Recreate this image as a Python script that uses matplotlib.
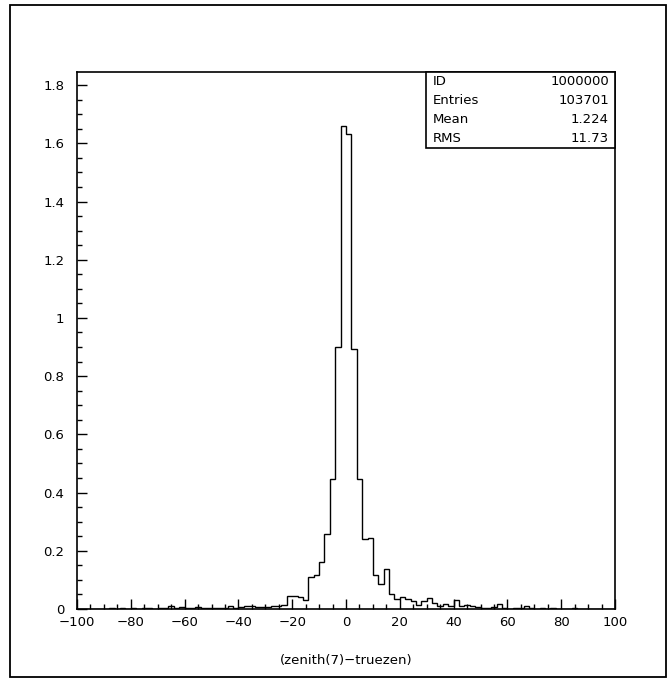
import numpy as np
import matplotlib
matplotlib.use("Agg")
import matplotlib.pyplot as plt
from matplotlib.ticker import MultipleLocator
from matplotlib.patches import Rectangle

# histogram: 100 bins of width 2 from -100 to 100
bin_edges = np.arange(-100, 101, 2)
counts = [
    0.001, 0.001, 0.001, 0.0015, 0.001, 0.001, 0.002, 0.001, 0.002, 0.001,   # -100 .. -82
    0.002, 0.001, 0.002, 0.002, 0.001, 0.002, 0.003, 0.011, 0.004, 0.007,    # -80 .. -62
    0.003, 0.004, 0.006, 0.003, 0.004, 0.003, 0.003, 0.004, 0.009, 0.003,    # -60 .. -42
    0.006, 0.011, 0.009, 0.006, 0.006, 0.007, 0.009, 0.011, 0.015, 0.044,    # -40 .. -22
    0.043, 0.040, 0.030, 0.110, 0.118, 0.161, 0.259, 0.445, 0.900, 1.660,    # -20 .. -2
    1.632, 0.895, 0.448, 0.242, 0.245, 0.118, 0.086, 0.138, 0.050, 0.034,    # 0 .. 18
    0.042, 0.034, 0.029, 0.014, 0.029, 0.037, 0.021, 0.011, 0.016, 0.011,    # 20 .. 38
    0.032, 0.011, 0.014, 0.009, 0.007, 0.002, 0.005, 0.007, 0.018, 0.002,    # 40 .. 58
    0.001, 0.002, 0.005, 0.009, 0.002, 0.001, 0.002, 0.001, 0.003, 0.001,    # 60 .. 78
    0.001, 0.001, 0.002, 0.001, 0.001, 0.001, 0.001, 0.001, 0.001, 0.001,    # 80 .. 98
]

stat_names = ["ID", "Entries", "Mean", "RMS"]
stat_values = ["1000000", "103701", "1.224", "11.73"]
x_label = "(zenith(7)\u2212truezen)"

plt.rcParams['font.family'] = ['DejaVu Sans']
W, H = 671, 679
fig = plt.figure(figsize=(W / 100, H / 100), dpi=100)

# axes box in pixel coordinates
ax_l, ax_r, ax_t, ax_b = 77, 615, 72, 609
ax = fig.add_axes([ax_l / W, (H - ax_b) / H, (ax_r - ax_l) / W, (ax_b - ax_t) / H])

ax.stairs(counts, bin_edges, color='black', linewidth=1.0)

ax.set_xlim(-100, 100)
ax.set_ylim(0, 1.845)

ax.xaxis.set_major_locator(MultipleLocator(20))
ax.xaxis.set_minor_locator(MultipleLocator(5))
ax.yaxis.set_major_locator(MultipleLocator(0.2))
ax.yaxis.set_minor_locator(MultipleLocator(0.05))

def fmt_y(v, pos):
    s = f"{v:.1f}"
    if s.endswith(".0"):
        s = s[:-2]
    return s

ax.yaxis.set_major_formatter(plt.FuncFormatter(fmt_y))

ax.tick_params(axis='both', which='major', direction='in', length=7, width=1.0,
               labelsize=9.5, top=False, right=False)
ax.tick_params(axis='both', which='minor', direction='in', length=3.5, width=1.0,
               top=False, right=False)
ax.tick_params(axis='x', which='major', pad=5)
ax.tick_params(axis='y', which='major', pad=9)

for sp in ax.spines.values():
    sp.set_linewidth(1.2)

ax.set_xlabel(x_label, fontsize=9.5, labelpad=18)

# statistics box
box_l, box_t, box_b = 426, 72, 148
row_h = (box_b - box_t) / len(stat_names)
fig.patches.append(Rectangle((box_l / W, (H - box_b) / H), (ax_r - box_l) / W,
                             (box_b - box_t) / H, transform=fig.transFigure,
                             fill=True, facecolor='white', edgecolor='black',
                             linewidth=1.2, zorder=5))
for i, (name, val) in enumerate(zip(stat_names, stat_values)):
    yc = box_t + row_h * (i + 0.5)
    fig.text((box_l + 7) / W, (H - yc) / H, name, fontsize=9.5,
             ha='left', va='center', zorder=6)
    fig.text((ax_r - 6) / W, (H - yc) / H, val, fontsize=9.5,
             ha='right', va='center', zorder=6)

# outer frame around the whole picture
fig.patches.append(Rectangle((10 / W, (H - 677) / H), (666 - 10) / W, (677 - 5) / H,
                             transform=fig.transFigure, fill=False,
                             edgecolor='black', linewidth=1.3))

fig.savefig("out.png", dpi=100)
